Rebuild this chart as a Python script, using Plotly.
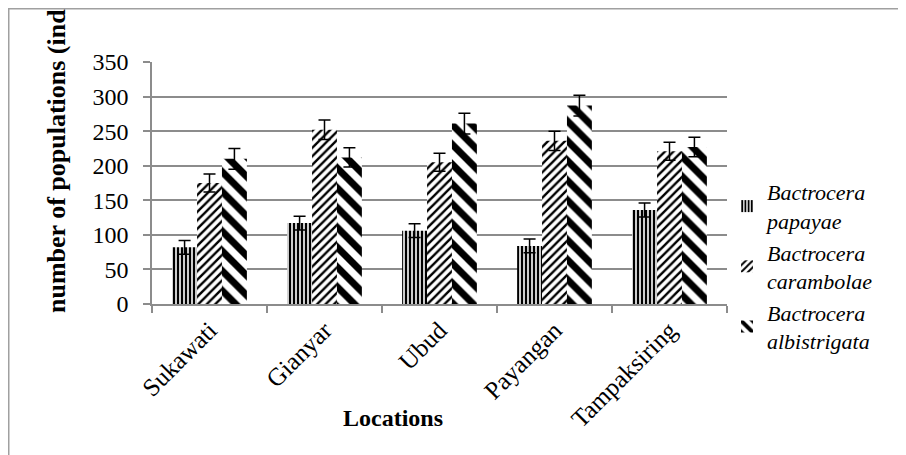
import plotly.graph_objects as go

locations = ["Sukawati", "Gianyar", "Ubud", "Payangan", "Tampaksiring"]
series_names = ["Bactrocera<br>papayae",
                "Bactrocera<br>carambolae",
                "Bactrocera<br>albistrigata"]
papayae = [82, 117, 106, 84, 136]
papayae_err = [10, 10, 10, 10, 10]
carambolae = [175, 252, 205, 236, 221]
carambolae_err = [13, 14, 13, 14, 13]
albistrigata = [210, 212, 261, 287, 227]
albistrigata_err = [15, 14, 15, 15, 14]
y_ticks = [0, 50, 100, 150, 200, 250, 300, 350]

FONT = "Liberation Serif"
GRID = "#8c8c8c"

values = [papayae, carambolae, albistrigata]
errors = [papayae_err, carambolae_err, albistrigata_err]
patterns = [dict(shape="|", size=4, solidity=0.6),
            dict(shape="/", size=6, solidity=0.4),
            dict(shape="\\", size=14, solidity=0.5)]

fig = go.Figure()
for name, vals, errs, pat in zip(series_names, values, errors, patterns):
    fig.add_trace(go.Bar(
        x=locations, y=vals, name=name,
        marker=dict(color="white", line=dict(width=0),
                    pattern=dict(fgcolor="black", bgcolor="white", fgopacity=1, **pat)),
        error_y=dict(type="data", array=errs, color="black", thickness=1.5, width=6),
    ))

# page offset (body margin of the html page)
OFF = 8
W, H = 906 - OFF, 455 - OFF
L, R, T, B = 152 - OFF, 727 - OFF, 62 - OFF, 304 - OFF
pw, ph = R - L, B - T

def px(x):
    return (x - OFF - L) / pw

def py(y):
    return (B - (y - OFF)) / ph

fig.update_layout(
    width=W, height=H,
    margin=dict(l=L, r=W - R, t=T, b=H - B, pad=0),
    paper_bgcolor="white", plot_bgcolor="white",
    barmode="group", bargap=0.35, bargroupgap=0,
    font=dict(family=FONT, size=24, color="black"),
    showlegend=True,
    legend=dict(x=px(727), y=py(171), xanchor="left", yanchor="top",
                font=dict(family=FONT, size=22, color="black", style="italic"),
                bgcolor="rgba(0,0,0,0)", tracegroupgap=0, itemwidth=30),
    xaxis=dict(showgrid=False, showline=True, linecolor=GRID, linewidth=1.5,
               ticks="outside", tickson="boundaries", ticklen=7, tickcolor=GRID,
               tickwidth=1.5, tickangle=-45,
               tickfont=dict(family=FONT, size=25, color="black")),
    yaxis=dict(range=[0, 350], tickvals=y_ticks, showgrid=True, gridcolor=GRID,
               gridwidth=1.5, showline=True, linecolor=GRID, linewidth=1.5,
               ticks="outside", ticklen=7, tickcolor=GRID, tickwidth=1.5,
               zeroline=False, ticklabelstandoff=10,
               tickfont=dict(family=FONT, size=24, color="black")),
    shapes=[dict(type="rect", xref="paper", yref="paper",
                 x0=px(OFF + 0.75), x1=px(906 + 30), y0=py(455 + 30), y1=py(OFF + 0.75),
                 line=dict(color="#a0a0a0", width=1.5), fillcolor="rgba(0,0,0,0)",
                 layer="below")],
    annotations=[
        dict(text="<b>Locations</b>", xref="paper", yref="paper",
             x=px(393), y=py(418), xanchor="center", yanchor="middle",
             showarrow=False, font=dict(family=FONT, size=24, color="black")),
        dict(text="<b>number of populations (ind</b>", xref="paper", yref="paper",
             x=px(56), y=py(7), xanchor="center", yanchor="top", textangle=-90,
             showarrow=False, font=dict(family=FONT, size=26, color="black")),
    ],
)

fig.write_html("out.html")
